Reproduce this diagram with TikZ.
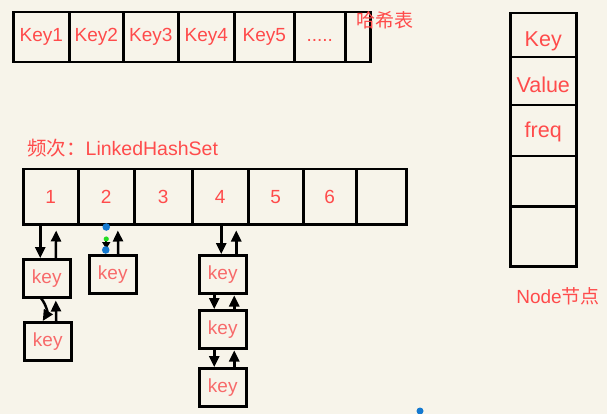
\documentclass[tikz,border=0pt]{standalone}
\usepackage{fontspec}
\setmainfont{Liberation Sans}
\newfontfamily\cjk{Noto Sans CJK SC}
\usetikzlibrary{arrows.meta}
\definecolor{bg}{HTML}{F7F4EA}
\definecolor{txt}{HTML}{FF4B4B}
\definecolor{ktxt}{HTML}{F76A6A}
\definecolor{selblue}{HTML}{1479D0}
\definecolor{selgreen}{HTML}{22DD22}
\begin{document}
\begin{tikzpicture}[x=1pt,y=-1pt,
  cell/.style={draw=black,line width=2.5pt,inner sep=0pt,text=txt,
    font=\fontsize{19}{21}\selectfont,anchor=north west},
  keybox/.style={cell,text=ktxt,minimum width=47pt,minimum height=38pt},
  lbl/.style={text=txt,inner sep=0pt},
  arr/.style={line width=2.5pt,-{Triangle[length=11pt,width=10pt]}}
]
\useasboundingbox (0,0) rectangle (607,414);
\fill[bg] (0,0) rectangle (607,414);

% hash table
\node[cell,minimum width=56pt,minimum height=50pt] (h1) at (12,11) {Key1};
\node[cell,minimum width=54pt,minimum height=50pt] (h2) at (68,11) {Key2};
\node[cell,minimum width=55pt,minimum height=50pt] (h3) at (122,11) {Key3};
\node[cell,minimum width=56pt,minimum height=50pt] (h4) at (177,11) {Key4};
\node[cell,minimum width=60pt,minimum height=50pt] (h5) at (233,11) {Key5};
\node[cell,minimum width=51pt,minimum height=50pt] (h6) at (293,11) {\vphantom{Ky}.....};
\node[cell,minimum width=25pt,minimum height=50pt] (h7) at (344,11) {};
\node[lbl,font=\cjk\fontsize{19}{21}\selectfont] (hlabel) at (385,20) {哈希表};

% frequency list
\node[lbl,anchor=west,font=\fontsize{19.5}{22}\selectfont] (flabel) at (27,148) {{\cjk 频次：}LinkedHashSet};
\node[cell,minimum width=55pt,minimum height=55pt] (c1) at (22,168) {1};
\node[cell,minimum width=56pt,minimum height=55pt] (c2) at (77,168) {2};
\node[cell,minimum width=58pt,minimum height=55pt] (c3) at (133,168) {3};
\node[cell,minimum width=56pt,minimum height=55pt] (c4) at (191,168) {4};
\node[cell,minimum width=55pt,minimum height=55pt] (c5) at (247,168) {5};
\node[cell,minimum width=53pt,minimum height=55pt] (c6) at (302,168) {6};
\node[cell,minimum width=50pt,minimum height=55pt] (c7) at (355,168) {};

% key boxes
\node[keybox] (kA) at (22,258) {key};
\node[keybox] (kB) at (23,321) {key};
\node[keybox] (kC) at (88,254) {key};
\node[keybox] (kD1) at (198,254) {key};
\node[keybox] (kD2) at (198,309) {key};
\node[keybox] (kD3) at (198,367) {key};

% arrows column 1
\draw[arr] ([xshift=-10.5pt]c1.south) -- ([xshift=-6.5pt]kA.north);
\draw[arr,shorten >=5pt] ([xshift=9pt]kA.north) -- ([xshift=5.5pt]c1.south);
\draw[arr] ([xshift=-5.5pt]kA.south) to[bend left=35] ([xshift=-5pt]kB.north);
\draw[arr,shorten >=2pt] ([xshift=8.5pt]kB.north) -- ([xshift=9pt]kA.south);

% arrows column 2
\draw[arr,shorten >=5pt] ([xshift=5.5pt]kC.north) -- ([xshift=11.5pt]c2.south);
\draw[line width=1.6pt,-{Triangle[length=7pt,width=8pt]}] ([xshift=-6.5pt,yshift=15pt]kC.north) -- ([xshift=-6.5pt,yshift=5pt]kC.north);
\fill[selblue] ([xshift=-6.5pt,yshift=27pt]kC.north) circle (3.8pt);
\fill[selblue] ([xshift=-7pt,yshift=4pt]kC.north) circle (3.8pt);
\fill[selgreen] ([xshift=-6.5pt,yshift=15pt]kC.north) circle (2.6pt);

% arrows column 4
\draw[arr] ([xshift=1pt]c4.south) -- ([xshift=-1.5pt]kD1.north);
\draw[arr,shorten >=5pt] ([xshift=13.5pt]kD1.north) -- ([xshift=16pt]c4.south);
\draw[arr] ([xshift=-8.5pt]kD1.south) -- ([xshift=-8.5pt]kD2.north);
\draw[arr,shorten >=1pt] ([xshift=11.5pt]kD2.north) -- ([xshift=11.5pt]kD1.south);
\draw[arr] ([xshift=-8.5pt]kD2.south) -- ([xshift=-8.5pt]kD3.north);
\draw[arr,shorten >=1pt] ([xshift=11.5pt]kD3.north) -- ([xshift=11.5pt]kD2.south);

% Node structure
\node[cell,minimum width=66pt,minimum height=44pt] (n1) at (509,12) {};
\node[cell,minimum width=66pt,minimum height=48pt] (n2) at (509,56) {};
\node[cell,minimum width=66pt,minimum height=51pt] (n3) at (509,104) {};
\node[cell,minimum width=66pt,minimum height=50pt] (n4) at (509,155) {};
\node[cell,minimum width=66pt,minimum height=60pt] (n5) at (509,205) {};
\node[lbl,font=\fontsize{21.5}{24}\selectfont] (t1) at ([yshift=-6pt]n1.center) {Key};
\node[lbl,font=\fontsize{21.5}{24}\selectfont] (t2) at ([yshift=-4pt]n2.center) {Value};
\node[lbl,font=\fontsize{21.5}{24}\selectfont] (t3) at ([yshift=-1pt]n3.center) {freq};
\node[lbl,font=\fontsize{19}{21}\selectfont] (nlabel) at (558,296) {Node{\cjk 节点}};

\fill[selblue] (420,411) circle (3.5pt);
\end{tikzpicture}
\end{document}
